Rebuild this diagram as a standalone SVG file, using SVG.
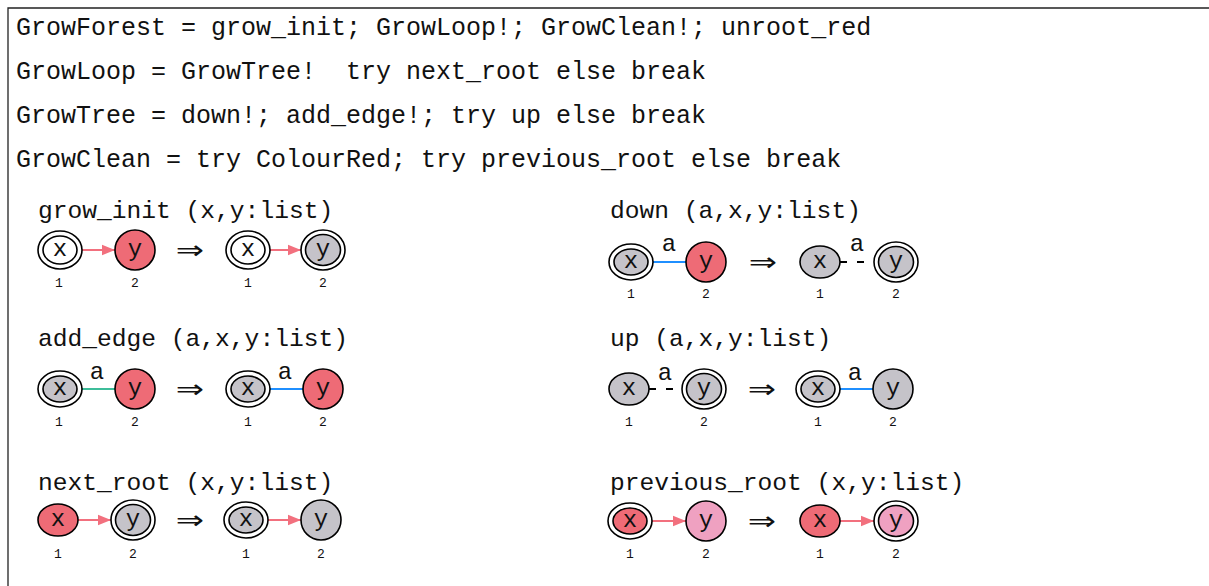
<svg xmlns="http://www.w3.org/2000/svg" width="1209" height="586" viewBox="0 0 1209 586">
<style>
.mono{font-family:"Liberation Mono","DejaVu Sans Mono",monospace;fill:#111}
.prog{font-size:25px}
.rule{font-size:24.6px}
.nl{font-size:24px;text-anchor:middle}
.idx{font-family:"Liberation Mono","DejaVu Sans Mono",monospace;font-size:13px;text-anchor:middle;fill:#111}
.arr{font-family:"DejaVu Sans",sans-serif;font-size:26px;text-anchor:middle;fill:#111}
.nd{stroke:#000;stroke-width:1.6}
.w{fill:#fff}.g{fill:#c5c3c9}.r{fill:#ee6b76}.p{fill:#efa1c1}
.e{fill:none;stroke-width:2}
.er{stroke:#f2707e}.eb{stroke:#1f8fff}.eg{stroke:#3dbd9a}
.ed{stroke:#000;stroke-dasharray:7 10}
</style>
<defs>
<marker id="ah" viewBox="0 0 10 10" refX="10" refY="5" markerWidth="6.5" markerHeight="6.5" markerUnits="strokeWidth" orient="auto">
<path d="M0,1 L10,5 L0,9 z" fill="#f2707e"/>
</marker>
</defs>
<g id="frame" fill="none" stroke="#222" stroke-width="1.3">
<path d="M8,586 V8 H1209"/>
</g>
<g id="program" class="mono prog">
<text x="16" y="35" xml:space="preserve">GrowForest = grow_init; GrowLoop!; GrowClean!; unroot_red</text>
<text x="16" y="79" xml:space="preserve">GrowLoop = GrowTree!  try next_root else break</text>
<text x="16" y="123" xml:space="preserve">GrowTree = down!; add_edge!; try up else break</text>
<text x="16" y="167" xml:space="preserve">GrowClean = try ColourRed; try previous_root else break</text>
</g>
<g id="connectors">
<line class="e er" x1="82" y1="250" x2="115" y2="250" marker-end="url(#ah)"/>
<line class="e er" x1="270" y1="250" x2="301" y2="250" marker-end="url(#ah)"/>
<line class="e eb" x1="653" y1="262" x2="686" y2="262"/>
<line class="e ed" x1="840" y1="262" x2="874" y2="262"/>
<line class="e eg" x1="82" y1="389" x2="115" y2="389"/>
<line class="e eb" x1="270" y1="389" x2="303" y2="389"/>
<line class="e ed" x1="649" y1="389" x2="682" y2="389"/>
<line class="e eb" x1="840" y1="389" x2="873" y2="389"/>
<line class="e er" x1="78" y1="520" x2="111" y2="520" marker-end="url(#ah)"/>
<line class="e er" x1="268" y1="520" x2="301" y2="520" marker-end="url(#ah)"/>
<line class="e er" x1="652" y1="521" x2="686" y2="521" marker-end="url(#ah)"/>
<line class="e er" x1="840" y1="521" x2="874" y2="521" marker-end="url(#ah)"/>
</g>
<g id="edge-labels" class="mono nl">
<text x="669" y="251">a</text>
<text x="857" y="251">a</text>
<text x="97" y="379">a</text>
<text x="285" y="379">a</text>
<text x="665" y="380">a</text>
<text x="855" y="380">a</text>
</g>
<g id="rule-grow_init">
<text class="mono rule" x="38" y="218">grow_init (x,y:list)</text>
<text class="arr" transform="translate(190 259) scale(1.3 1)">⇒</text>
</g>
<g id="gi-L1"><ellipse class="nd w" cx="60" cy="250" rx="22" ry="19"/><ellipse class="nd w" cx="60" cy="250" rx="17" ry="14"/><text class="mono nl" x="60" y="256">x</text><text class="idx" x="59" y="287">1</text></g>
<g id="gi-L2"><circle class="nd r" cx="135" cy="250" r="20"/><text class="mono nl" x="135" y="256">y</text><text class="idx" x="135" y="287">2</text></g>
<g id="gi-R1"><ellipse class="nd w" cx="248" cy="250" rx="22" ry="19"/><ellipse class="nd w" cx="248" cy="250" rx="17" ry="14"/><text class="mono nl" x="248" y="256">x</text><text class="idx" x="248" y="287">1</text></g>
<g id="gi-R2"><ellipse class="nd w" cx="323" cy="250" rx="22" ry="20"/><ellipse class="nd g" cx="323" cy="250" rx="17.5" ry="15.5"/><text class="mono nl" x="323" y="256">y</text><text class="idx" x="323" y="287">2</text></g>

<g id="rule-down">
<text class="mono rule" x="610" y="218">down (a,x,y:list)</text>
<text class="arr" transform="translate(763 271) scale(1.3 1)">⇒</text>
</g>
<g id="dn-L1"><ellipse class="nd w" cx="631" cy="262" rx="22" ry="18"/><ellipse class="nd g" cx="631" cy="262" rx="17" ry="13"/><text class="mono nl" x="631" y="268">x</text><text class="idx" x="631" y="298">1</text></g>
<g id="dn-L2"><circle class="nd r" cx="706" cy="262" r="20"/><text class="mono nl" x="706" y="268">y</text><text class="idx" x="706" y="298">2</text></g>
<g id="dn-R1"><ellipse class="nd g" cx="820" cy="262" rx="20" ry="16"/><text class="mono nl" x="820" y="268">x</text><text class="idx" x="820" y="298">1</text></g>
<g id="dn-R2"><ellipse class="nd w" cx="896" cy="262" rx="22" ry="20"/><ellipse class="nd g" cx="896" cy="262" rx="17.5" ry="15.5"/><text class="mono nl" x="896" y="268">y</text><text class="idx" x="896" y="298">2</text></g>

<g id="rule-add_edge">
<text class="mono rule" x="38" y="346">add_edge (a,x,y:list)</text>
<text class="arr" transform="translate(190 398) scale(1.3 1)">⇒</text>
</g>
<g id="ae-L1"><ellipse class="nd w" cx="60" cy="389" rx="22" ry="18"/><ellipse class="nd g" cx="60" cy="389" rx="17" ry="13"/><text class="mono nl" x="60" y="395">x</text><text class="idx" x="59" y="426">1</text></g>
<g id="ae-L2"><circle class="nd r" cx="135" cy="389" r="20"/><text class="mono nl" x="135" y="395">y</text><text class="idx" x="135" y="426">2</text></g>
<g id="ae-R1"><ellipse class="nd w" cx="248" cy="389" rx="22" ry="18"/><ellipse class="nd g" cx="248" cy="389" rx="17" ry="13"/><text class="mono nl" x="248" y="395">x</text><text class="idx" x="248" y="426">1</text></g>
<g id="ae-R2"><circle class="nd r" cx="323" cy="389" r="20"/><text class="mono nl" x="323" y="395">y</text><text class="idx" x="323" y="426">2</text></g>

<g id="rule-up">
<text class="mono rule" x="610" y="346">up (a,x,y:list)</text>
<text class="arr" transform="translate(762 398) scale(1.3 1)">⇒</text>
</g>
<g id="up-L1"><ellipse class="nd g" cx="629" cy="389" rx="20" ry="16"/><text class="mono nl" x="629" y="395">x</text><text class="idx" x="629" y="426">1</text></g>
<g id="up-L2"><ellipse class="nd w" cx="704" cy="389" rx="22" ry="20"/><ellipse class="nd g" cx="704" cy="389" rx="17.5" ry="15.5"/><text class="mono nl" x="704" y="395">y</text><text class="idx" x="704" y="426">2</text></g>
<g id="up-R1"><ellipse class="nd w" cx="818" cy="389" rx="22" ry="18"/><ellipse class="nd g" cx="818" cy="389" rx="17" ry="13"/><text class="mono nl" x="818" y="395">x</text><text class="idx" x="818" y="426">1</text></g>
<g id="up-R2"><circle class="nd g" cx="893" cy="389" r="20"/><text class="mono nl" x="893" y="395">y</text><text class="idx" x="893" y="426">2</text></g>

<g id="rule-next_root">
<text class="mono rule" x="38" y="490">next_root (x,y:list)</text>
<text class="arr" transform="translate(190 529) scale(1.3 1)">⇒</text>
</g>
<g id="nr-L1"><ellipse class="nd r" cx="58" cy="520" rx="20" ry="16"/><text class="mono nl" x="58" y="526">x</text><text class="idx" x="58" y="558">1</text></g>
<g id="nr-L2"><ellipse class="nd w" cx="133" cy="520" rx="22" ry="20"/><ellipse class="nd g" cx="133" cy="520" rx="17.5" ry="15.5"/><text class="mono nl" x="133" y="526">y</text><text class="idx" x="133" y="558">2</text></g>
<g id="nr-R1"><ellipse class="nd w" cx="246" cy="520" rx="22" ry="18"/><ellipse class="nd g" cx="246" cy="520" rx="17" ry="13"/><text class="mono nl" x="246" y="526">x</text><text class="idx" x="246" y="558">1</text></g>
<g id="nr-R2"><circle class="nd g" cx="321" cy="520" r="20"/><text class="mono nl" x="321" y="526">y</text><text class="idx" x="321" y="558">2</text></g>

<g id="rule-previous_root">
<text class="mono rule" x="610" y="490">previous_root (x,y:list)</text>
<text class="arr" transform="translate(762 530) scale(1.3 1)">⇒</text>
</g>
<g id="pr-L1"><ellipse class="nd w" cx="630" cy="521" rx="22" ry="18"/><ellipse class="nd r" cx="630" cy="521" rx="17" ry="13"/><text class="mono nl" x="630" y="527">x</text><text class="idx" x="630" y="558">1</text></g>
<g id="pr-L2"><circle class="nd p" cx="706" cy="521" r="20"/><text class="mono nl" x="706" y="527">y</text><text class="idx" x="706" y="558">2</text></g>
<g id="pr-R1"><ellipse class="nd r" cx="820" cy="521" rx="20" ry="16"/><text class="mono nl" x="820" y="527">x</text><text class="idx" x="820" y="558">1</text></g>
<g id="pr-R2"><ellipse class="nd w" cx="896" cy="521" rx="22" ry="20"/><ellipse class="nd p" cx="896" cy="521" rx="17.5" ry="15.5"/><text class="mono nl" x="896" y="527">y</text><text class="idx" x="896" y="558">2</text></g>
</svg>
